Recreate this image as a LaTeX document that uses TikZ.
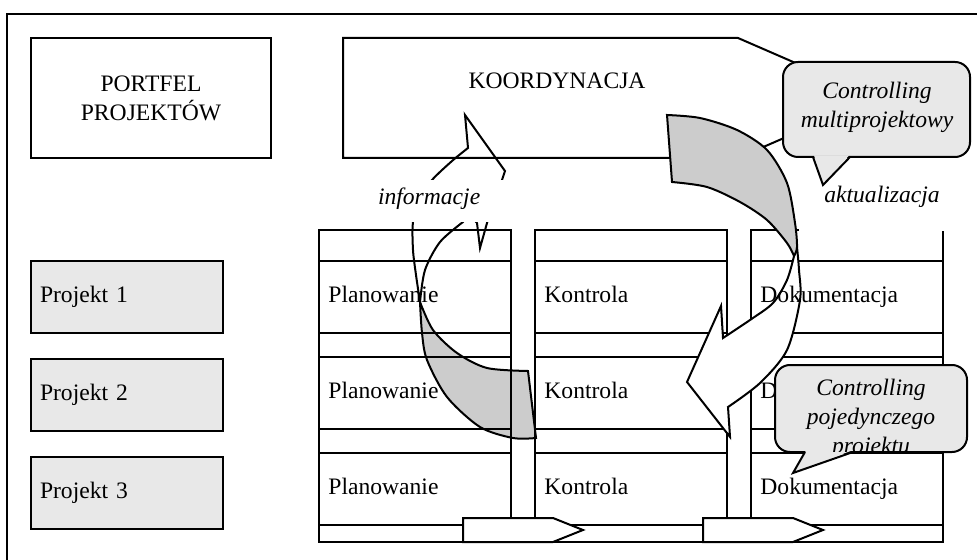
\documentclass[tikz,border=0pt]{standalone}
\usepackage{fontspec}
\setmainfont{Liberation Serif}
\usetikzlibrary{positioning}
\newcommand{\diagfont}{\fontsize{11.8pt}{14.5pt}\selectfont}
\tikzset{
  ln/.style={line width=1pt},
  plainbox/.style={draw, line width=1pt, align=center},
  projbox/.style={draw, line width=1pt, fill=black!9, minimum height=36pt, text width=87pt, inner xsep=4.5pt, align=left},
  celltext/.style={anchor=west, inner sep=0pt, text height=8pt, text depth=2.6pt},
  lbl/.style={fill=white, inner ysep=0pt, anchor=base, font=\diagfont\itshape},
  bubble/.style={draw, line width=1pt, fill=black!9, rounded corners=7.5pt},
  backside/.style={draw, line width=1pt, fill=black!20},
  tagarrow/.style={draw, line width=1pt, fill=white},
}
\begin{document}
\begin{tikzpicture}[x=0.5pt, y=-0.5pt, font=\diagfont]
\useasboundingbox (0,0) rectangle (977,560);
\clip (0,0) rectangle (977,560);
\draw[line width=1.2pt] (7,14) rectangle (1000,600);

% portfel and projects
\node[plainbox, minimum width=120pt, minimum height=60pt] (portfel) at (151,98) {PORTFEL\\PROJEKTÓW};
\node[projbox] (proj1) at (127,297) {Projekt 1};
\node[projbox, below=12pt of proj1] (proj2) {Projekt 2};
\node[projbox, below=12pt of proj2] (proj3) {Projekt 3};

% koordynacja
\draw[ln] (343,38) -- (738,38) -- (876,98) -- (738,158) -- (343,158) -- cycle;
\node (koord) at (557,81) {KOORDYNACJA};

% curved arrow (informacje)
\filldraw[backside] plot[smooth] coordinates {(420,302) (422,333) (427,360) (447,397) (480,427) (513,438) (536,438)}
  -- (528,371) -- plot[smooth] coordinates {(528,371) (487,368) (457,353) (433,330) (420,302)} -- cycle;
\draw[ln] plot[smooth] coordinates {(420,302) (416,275) (413,250) (413,222) (420,198) (432,180) (452,161) (468,148)}
  -- (465,115) -- (505,171) -- (502,180) -- (487,223) -- (480,248) -- (477,223) -- (468,213)
  -- plot[smooth] coordinates {(463,222) (440,242) (425,270) (420,302)};

% grid
\foreach \cx in {319,535,751} {
  \draw[ln] (\cx,230) rectangle ++(192,295);
  \foreach \ry in {261,333,357,429,453}
    \draw[ln] (\cx,\ry) -- ++(192,0);
}
\draw[ln] (319,525) rectangle (943,542);

% curved arrow (aktualizacja)
\filldraw[tagarrow] plot[smooth] coordinates {(794,256) (787,280) (773,303) (750,320) (723,338)}
  -- (721,306) -- (687,382) -- (730,437) -- (728,407)
  -- plot[smooth] coordinates {(728,407) (760,383) (787,350) (800,300) (799,270) (797,247)} -- cycle;
\filldraw[backside] plot[smooth] coordinates {(667,115) (700,118) (737,130) (767,150) (787,183) (795,223) (797,247) (794,256)}
  -- plot[smooth] coordinates {(794,256) (787,243) (767,220) (740,202) (707,187) (672,182)} -- cycle;

% cells
\foreach \cx/\lab [count=\c] in {319/Planowanie,535/Kontrola,751/Dokumentacja}
  \foreach \ry [count=\r] in {297,393,489}
    \node[celltext] (cell\c\r) at (\cx+9,\ry) {\lab};

% time arrows
\foreach \ax [count=\i] in {463,703}
  \draw[tagarrow] (\ax,518) -- ++(90,0) -- ++(30,12) -- ++(-30,12) -- ++(-90,0) -- cycle;

% labels
\node[lbl, text width=58pt, inner xsep=9pt, align=left, text height=12.5pt, text depth=8.5pt] (info) at (436,205) {informacje};
\node[lbl, minimum width=83pt, text height=12.5pt, text depth=14pt] (aktual) at (882,203) {aktualizacja};

% callouts
\filldraw[bubble] (783,62) rectangle (970,157);
\fill[black!9] (814,155.5) -- (849,155.5) -- (823,184) -- cycle;
\draw[ln, line join=miter] (813,157) -- (823,185) -- (850,157);
\node[align=center, font=\diagfont\itshape] (multi) at (877,107) {Controlling\\multiprojektowy};

\filldraw[bubble] (775,365) rectangle (967,452);
\fill[black!9] (806,450.5) -- (852,450.5) -- (794,472) -- cycle;
\draw[ln, line join=miter] (805,452) -- (793,473) -- (853,452);
\begin{scope}
  \clip[rounded corners=7.5pt] (775,365) rectangle (967,451);
  \node[align=center, font=\diagfont\itshape] (single) at (871,419) {Controlling\\pojedynczego\\projektu};
\end{scope}
\end{tikzpicture}
\end{document}
